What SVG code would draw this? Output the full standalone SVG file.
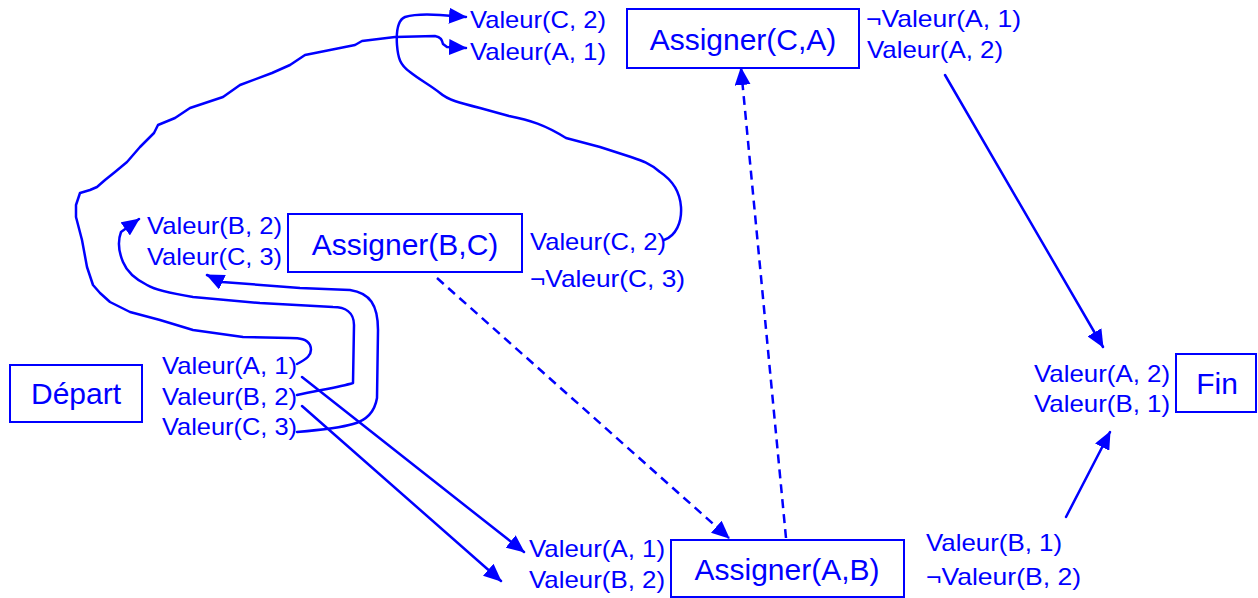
<svg xmlns="http://www.w3.org/2000/svg" width="1258" height="598" viewBox="0 0 1258 598">
<style>
.box{fill:#fff;stroke:#0000ff;stroke-width:2}
.big{font-family:"Liberation Sans",Arial,sans-serif;font-size:30px;fill:#0000ff;text-anchor:middle}
.lbl{font-family:"Liberation Sans",Arial,sans-serif;font-size:24px;fill:#0000ff}
.ln{fill:none;stroke:#0000ff;stroke-width:2.5;stroke-linejoin:round;stroke-linecap:round;marker-end:url(#ah)}
.dash{stroke-dasharray:9 6;stroke-linecap:butt}
</style>
<defs>
<marker id="ah" markerUnits="userSpaceOnUse" markerWidth="18" markerHeight="16" viewBox="0 0 18 16" refX="17" refY="8" orient="auto">
<path d="M0,0 L18,8 L0,16 z" fill="#0000ff"/>
</marker>
</defs>
<rect width="1258" height="598" fill="#fff"/>
<g id="connectors">
<path class="ln" d="M297,364 C305,360 314,355 310,345 C307,339 300,338 290,338 L243,337 L193,330 L160,320 L130,312 L110,302 L100,293 L93,285 L87,267 L82,240 L76,217 L76,205 L80,193 L90,190 L97,187 L105,180 L115,172 L127,162 L140,147 L154,133 L158,125 L175,118 L190,108 L205,103 L223,97 L240,85 L272,73 L290,65 L305,55 L330,50 L355,45 L362,41 L395,37 L435,36 C441,37 442,40 443,44 L447,47 L466,48"/>
<path class="ln" d="M664,240 C676,236 682,222 681,207 C680,192 672,180 660,172 C650,163 640,160 631,157 L600,147 L566,138 C545,125 530,120 509,116 L480,108 C460,103 448,100 440,93 C430,85 420,80 410,72 C400,65 398,58 397,45 C396,30 398,20 405,17 C415,14 425,14 440,15 L466,17"/>
<path class="ln" d="M297,395 C320,390 340,387 353,383 L354,325 C354,312 345,307 333,307 L260,303 L193,297 C170,293 155,290 147,285 C135,279 127,272 123,262 C118,250 118,240 121,232 L139,219"/>
<path class="ln" d="M297,432 C320,430 340,428 353,424 C368,420 375,410 377,398 L378,330 C378,305 370,293 350,290 L300,288 L222,282 L207,275"/>
<path class="ln" d="M302,377 L524,552"/>
<path class="ln" d="M302,406 L501,581"/>
<path class="ln dash" d="M437,278 L729,538"/>
<path class="ln dash" d="M786,538 L741,68"/>
<path class="ln" d="M945,75 L1103,347"/>
<path class="ln" d="M1066,517 L1110,432"/>
</g>
<g id="depart">
<rect class="box" x="10" y="365" width="132" height="57"/>
<text class="big" x="76" y="404">Départ</text>
<text class="lbl" x="162" y="374" textLength="135" lengthAdjust="spacingAndGlyphs">Valeur(A, 1)</text>
<text class="lbl" x="162" y="405" textLength="135" lengthAdjust="spacingAndGlyphs">Valeur(B, 2)</text>
<text class="lbl" x="162" y="435" textLength="135" lengthAdjust="spacingAndGlyphs">Valeur(C, 3)</text>
</g>
<g id="assigner-bc">
<rect class="box" x="288" y="214" width="234" height="58"/>
<text class="big" x="405" y="255">Assigner(B,C)</text>
<text class="lbl" x="147" y="234" textLength="135" lengthAdjust="spacingAndGlyphs">Valeur(B, 2)</text>
<text class="lbl" x="147" y="265" textLength="135" lengthAdjust="spacingAndGlyphs">Valeur(C, 3)</text>
<text class="lbl" x="530" y="250" textLength="136" lengthAdjust="spacingAndGlyphs">Valeur(C, 2)</text>
<text class="lbl" x="530" y="287" textLength="155" lengthAdjust="spacingAndGlyphs">¬Valeur(C, 3)</text>
</g>
<g id="assigner-ca">
<rect class="box" x="627" y="9" width="232" height="59"/>
<text class="big" x="743" y="50">Assigner(C,A)</text>
<text class="lbl" x="470" y="28" textLength="136" lengthAdjust="spacingAndGlyphs">Valeur(C, 2)</text>
<text class="lbl" x="470" y="60" textLength="136" lengthAdjust="spacingAndGlyphs">Valeur(A, 1)</text>
<text class="lbl" x="866" y="27" textLength="155" lengthAdjust="spacingAndGlyphs">¬Valeur(A, 1)</text>
<text class="lbl" x="867" y="58" textLength="136" lengthAdjust="spacingAndGlyphs">Valeur(A, 2)</text>
</g>
<g id="fin">
<rect class="box" x="1176" y="354" width="80" height="58"/>
<text class="big" x="1217" y="394">Fin</text>
<text class="lbl" x="1034" y="382" textLength="136" lengthAdjust="spacingAndGlyphs">Valeur(A, 2)</text>
<text class="lbl" x="1034" y="412" textLength="136" lengthAdjust="spacingAndGlyphs">Valeur(B, 1)</text>
</g>
<g id="assigner-ab">
<rect class="box" x="671" y="540" width="233" height="57"/>
<text class="big" x="787" y="580">Assigner(A,B)</text>
<text class="lbl" x="529" y="557" textLength="136" lengthAdjust="spacingAndGlyphs">Valeur(A, 1)</text>
<text class="lbl" x="529" y="588" textLength="136" lengthAdjust="spacingAndGlyphs">Valeur(B, 2)</text>
<text class="lbl" x="926" y="551" textLength="136" lengthAdjust="spacingAndGlyphs">Valeur(B, 1)</text>
<text class="lbl" x="926" y="585" textLength="155" lengthAdjust="spacingAndGlyphs">¬Valeur(B, 2)</text>
</g>
</svg>
